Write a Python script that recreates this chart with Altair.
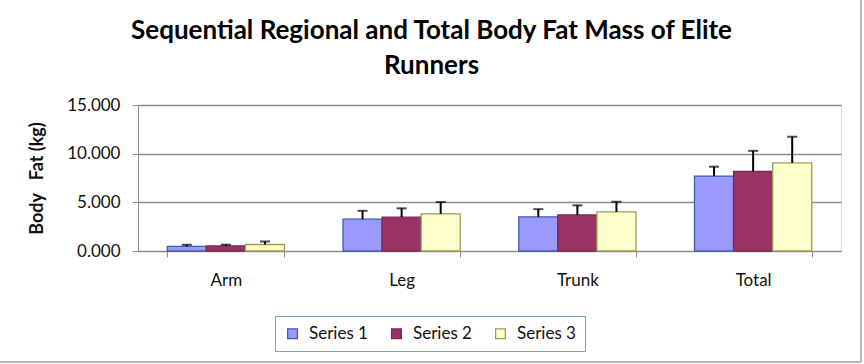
import altair as alt
import pandas as pd

# Regions and per-series mean fat mass (kg) with upper error (SD)
regions = ["Arm", "Leg", "Trunk", "Total"]
series_names = ["Series 1", "Series 2", "Series 3"]
series1 = [0.47, 3.27, 3.51, 7.70]
series2 = [0.52, 3.48, 3.71, 8.17]
series3 = [0.67, 3.82, 4.02, 9.05]
error1 = [0.17, 0.86, 0.79, 0.96]
error2 = [0.13, 0.90, 0.98, 2.12]
error3 = [0.30, 1.21, 1.04, 2.69]

fills = ["#9999FF", "#993366", "#FFFFCC"]
strokes = ["#3F5FA8", "#7A2850", "#9C9C55"]

rows = []
for name, vals, errs in zip(series_names, [series1, series2, series3], [error1, error2, error3]):
    for region, v, e in zip(regions, vals, errs):
        rows.append({"region": region, "series": name, "value": v, "upper": v + e})
df = pd.DataFrame(rows)

FONT = "Lato"
W, H = 703, 146

x_enc = alt.X(
    "region:N",
    sort=regions,
    title=None,
    scale=alt.Scale(paddingInner=0.333, paddingOuter=0.1665),
    axis=alt.Axis(
        labelAngle=0, tickBand="extent", domainColor="#8c8c8c", tickColor="#8c8c8c",
        tickSize=6, labelPadding=15, labelFontSize=17, labelFont=FONT, labelColor="#111",
        grid=False,
    ),
)
xo = alt.XOffset("series:N", sort=series_names, scale=alt.Scale(paddingInner=0, paddingOuter=0))

bars = alt.Chart(df).mark_bar(strokeWidth=1.3).encode(
    x=x_enc,
    xOffset=xo,
    y=alt.Y(
        "value:Q",
        title="Body\u00a0\u00a0\u00a0Fat (kg)",
        scale=alt.Scale(domain=[0, 15], nice=False),
        axis=alt.Axis(
            values=[0, 5, 10, 15], format=".3f", gridColor="#8c8c8c", gridWidth=1.3,
            domainColor="#8c8c8c", tickColor="#8c8c8c", tickSize=6, labelPadding=12,
            labelFontSize=17, labelFont=FONT, labelColor="#111",
            titleFont=FONT, titleFontSize=18, titleFontWeight="bold", titleColor="#111",
            titlePadding=20,
        ),
    ),
    fill=alt.Fill("series:N", sort=series_names,
                  scale=alt.Scale(domain=series_names, range=fills),
                  legend=alt.Legend(
                      title=None, orient="none", direction="horizontal",
                      legendX=137, legendY=211, symbolType="square", symbolSize=95,
                      symbolStrokeWidth=1.3, labelFont=FONT, labelFontSize=17,
                      labelColor="#111", labelOffset=8, columnPadding=20,
                      padding=9, strokeColor="#7F9CC4", cornerRadius=0,
                      fillColor="white",
                  )),
    stroke=alt.Stroke("series:N", sort=series_names,
                      scale=alt.Scale(domain=series_names, range=strokes),
                      legend=None),
)

err_line = alt.Chart(df).mark_rule(color="black", strokeWidth=2).encode(
    x=alt.X("region:N", sort=regions),
    xOffset=xo,
    y="value:Q",
    y2="upper:Q",
)

err_cap = alt.Chart(df).mark_tick(color="black", thickness=2, size=10, orient="horizontal").encode(
    x=alt.X("region:N", sort=regions),
    xOffset=xo,
    y="upper:Q",
)

# Outer chart frame on the right and bottom edges (top of the frame sits at the canvas top)
frame_right = alt.Chart(pd.DataFrame({"k": [0]})).mark_rule(color="#a0a0a0", strokeWidth=1.5).encode(
    x=alt.value(723), y=alt.value(-105), y2=alt.value(257)
)
frame_bottom = alt.Chart(pd.DataFrame({"k": [0]})).mark_rule(color="#a0a0a0", strokeWidth=1.5).encode(
    x=alt.value(-140), x2=alt.value(723), y=alt.value(257)
)

chart = alt.layer(bars, err_line, err_cap, frame_right, frame_bottom).properties(
    width=W,
    height=H,
    padding={"left": 138, "top": 105, "right": 23, "bottom": 113},
    autosize=alt.AutoSizeParams(type="none"),
    title=alt.TitleParams(
        text=["Sequential Regional and Total Body Fat Mass of Elite", "Runners"],
        font=FONT, fontSize=26, fontWeight="bold", color="#000",
        anchor="middle", frame="group", dx=-58, offset=0, dy=101,
        lineHeight=35, baseline="alphabetic",
    ),
).configure_view(stroke=None).configure(background="white")

chart.save("out.html", embed_options={"renderer": "svg", "actions": False})
